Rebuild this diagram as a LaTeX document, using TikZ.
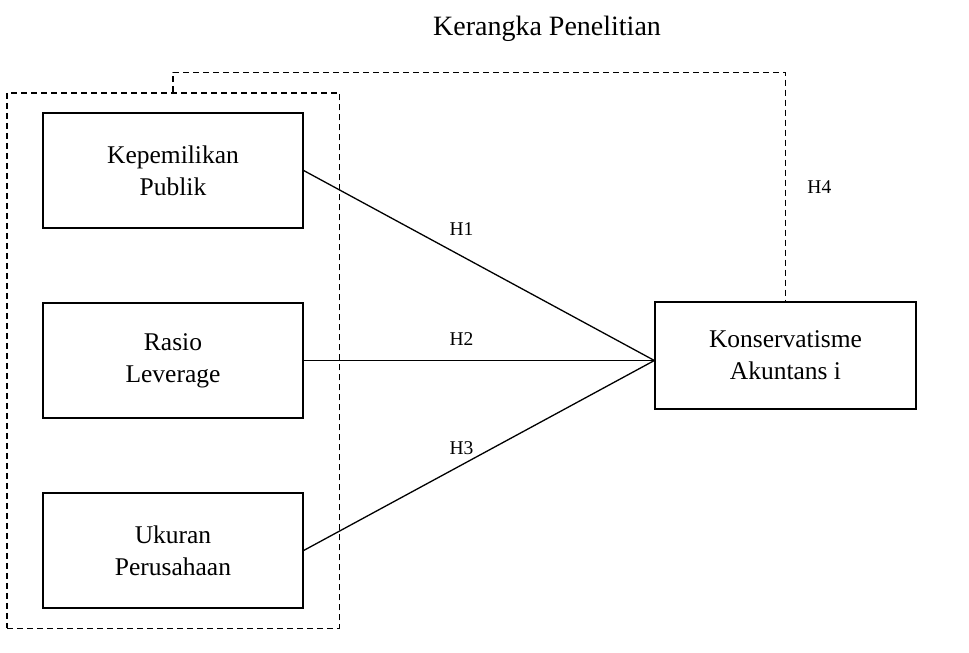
\documentclass[tikz,border=0pt]{standalone}
\usepackage{fontspec}
\setmainfont{Liberation Serif}
\usetikzlibrary{positioning, fit}

\begin{document}
\begin{tikzpicture}[x=1pt, y=1pt, line width=1.3pt, node distance=190pt]
        \tikzstyle{var}=[draw=black, fill=white, text=black, align=center, inner sep=0pt,
                minimum width=260pt, minimum height=115pt, font=\fontsize{25.5}{32}\selectfont]
        \tikzstyle{hyp}=[font=\fontsize{19.5}{22}\selectfont]
        \tikzstyle{dashline}=[dash pattern=on 6pt off 4pt]

        \useasboundingbox (0,0) rectangle (969,-653);

        \node[font=\fontsize{28}{32}\selectfont] (T) at (547,-29) {Kerangka Penelitian};

        \node[var]      (A) at (173,-170.5)   {Kepemilikan\\Publik};
        \node[var]      (B) [below of=A]      {Rasio\\Leverage};
        \node[var]      (C) [below of=B]      {Ukuran\\Perusahaan};
        \node[var, minimum width=261pt, minimum height=107pt]
                        (K) [right of=B, node distance=612.5pt, yshift=5pt] {Konservatisme\\Akuntans i};
        \coordinate (KW) at (K.west |- B.east);

        \node[draw, dashline, fit=(A) (C), inner xsep=35.5pt, inner ysep=19.5pt] (grp) {};

        \draw[dashline] (grp.north) -- ++(0,20) -| (K.north) node[hyp, pos=0.75, right, xshift=18pt] {H4};

        \path (A.east) edge node[hyp, above, pos=0.45, yshift=17pt] {H1} (KW)
              (B.east) edge node[hyp, above, pos=0.45, yshift=11pt] {H2} (KW)
              (C.east) edge node[hyp, above, pos=0.45, yshift=6pt] {H3} (KW);
\end{tikzpicture}
\end{document}
